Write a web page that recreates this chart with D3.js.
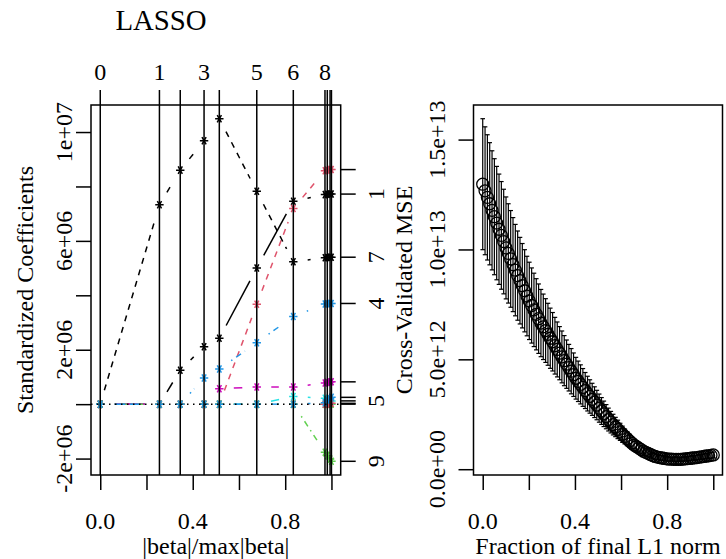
<!DOCTYPE html>
<html>
<head>
<meta charset="utf-8">
<script src="https://cdn.jsdelivr.net/npm/d3@7"></script>
<style>
  body { margin: 0; background: #fff; }
  text { font-family: "Liberation Serif", "Times New Roman", serif; fill: #000; }
</style>
</head>
<body>
<svg id="chart" width="726" height="559"></svg>
<script>
// ---- LASSO path: |beta|/max|beta| at every step, and df label of each step
const steps  = [0, 0.256, 0.346, 0.449, 0.515, 0.677, 0.835, 0.972, 0.982, 0.994, 1.0];
const stepDf = ["0", "1", "2", "3", "4", "5", "6", "8", "9", "10", "10"];

// standardized coefficients (millions) per variable at each step
const coef1  = [0, 0, 1.25, 2.11, 2.42, 5.00, 7.46, 7.70, 7.71, 7.72, 7.72];
const coef2  = [0, 0, 0, 0, 0, 3.67, 7.19, 8.58, 8.60, 8.62, 8.62];
const coef3  = [0, 0, 0, 0, 0, 0, 0, 0, 0, 0, 0];
const coef4  = [0, 0, 0, 0.96, 1.29, 2.26, 3.22, 3.68, 3.69, 3.70, 3.70];
const coef5  = [0, 0, 0, 0, 0, 0, 0.28, 0.22, 0.18, 0.14, 0.12];
const coef6  = [0, 0, 0, 0, 0.57, 0.63, 0.63, 0.78, 0.80, 0.81, 0.82];
const coef7  = [0, 7.33, 8.60, 9.68, 10.49, 7.82, 5.23, 5.38, 5.39, 5.40, 5.40];
const coef8  = [0, 0, 0, 0, 0, 0, 0, 0, 0, 0.02, 0.03];
const coef9  = [0, 0, 0, 0, 0, 0, 0, -1.77, -1.90, -2.02, -2.10];
const coef10 = [0, 0, 0, 0, 0, 0, 0, 0.05, 0.15, 0.20, 0.25];
const coefs = [coef1, coef2, coef3, coef4, coef5, coef6, coef7, coef8, coef9, coef10];

// labels on the right axis (blank = label dropped for overlap)
const varLabels = ["1", "", "", "4", "5", "", "7", "", "9", ""];
const coefTicks = [-2, 0, 2, 4, 6, 8, 10];
const coefTickLabels = ["-2e+06", "0e+00", "2e+06", "4e+06", "6e+06", "8e+06", "1e+07"];

// ---- cross validation: fraction of final L1 norm, CV MSE and its se (1e12)
const fraction = d3.range(100).map(i => i / 99);
const cvMse = [
  12.97, 12.67, 12.37, 12.08, 11.78, 11.49, 11.20, 10.92, 10.64, 10.36,
  10.07, 9.82, 9.57, 9.31, 9.06, 8.81, 8.58, 8.35, 8.12, 7.88,
  7.66, 7.45, 7.25, 7.05, 6.85, 6.65, 6.48, 6.31, 6.14, 5.96,
  5.80, 5.62, 5.45, 5.28, 5.11, 4.94, 4.78, 4.62, 4.46, 4.30,
  4.14, 4.00, 3.86, 3.72, 3.58, 3.44, 3.31, 3.18, 3.05, 2.92,
  2.78, 2.65, 2.52, 2.39, 2.26, 2.14, 2.03, 1.92, 1.81, 1.70,
  1.59, 1.49, 1.39, 1.29, 1.19, 1.10, 1.03, 0.96, 0.89, 0.82,
  0.77, 0.72, 0.67, 0.62, 0.58, 0.55, 0.53, 0.51, 0.49, 0.47,
  0.46, 0.46, 0.45, 0.45, 0.45, 0.45, 0.46, 0.47, 0.48, 0.49,
  0.51, 0.52, 0.53, 0.55, 0.56, 0.58, 0.60, 0.61, 0.63, 0.65
];
const cvSe = [
  2.98, 2.91, 2.85, 2.78, 2.71, 2.64, 2.58, 2.51, 2.45, 2.38,
  2.32, 2.26, 2.20, 2.14, 2.08, 2.03, 1.97, 1.92, 1.87, 1.81,
  1.76, 1.71, 1.67, 1.62, 1.58, 1.53, 1.49, 1.45, 1.41, 1.37,
  1.33, 1.29, 1.25, 1.21, 1.18, 1.14, 1.10, 1.06, 1.03, 0.99,
  0.95, 0.92, 0.89, 0.86, 0.82, 0.79, 0.76, 0.73, 0.70, 0.67,
  0.64, 0.61, 0.58, 0.55, 0.52, 0.49, 0.47, 0.44, 0.42, 0.39,
  0.37, 0.34, 0.32, 0.30, 0.27, 0.25, 0.24, 0.22, 0.20, 0.19,
  0.17, 0.16, 0.15, 0.14, 0.13, 0.12, 0.11, 0.11, 0.10, 0.10,
  0.09, 0.09, 0.09, 0.09, 0.09, 0.09, 0.09, 0.09, 0.10, 0.10,
  0.10, 0.10, 0.11, 0.11, 0.11, 0.12, 0.12, 0.12, 0.13, 0.13
];
const fracTicks = [0, 0.2, 0.4, 0.6, 0.8, 1.0];
const mseTicks = [0, 5, 10, 15];
const mseTickLabels = ["0.0e+00", "5.0e+12", "1.0e+13", "1.5e+13"];

// R palette / line types (matplot cycles col 1:6, lty 1:5)
const palette = ["#000000", "#DF536B", "#61D04F", "#2297E6", "#28E2E5", "#CD0BBC"];
const ltys = [null, "6,6", "1.5,4.5", "1.5,4.5,6,4.5", "10.5,4.5"];

const svg = d3.select("#chart");
const FS = 24, LW = 1.5, TICK = 15;

// R style axis range: data range stretched by 4%
function pad(ext) {
  const d = ext[1] - ext[0];
  return [ext[0] - d * 0.04, ext[1] + d * 0.04];
}

const mWidth = (() => {
  const t = svg.append("text").style("font-size", FS + "px").text("m");
  const w = t.node().getComputedTextLength();
  t.remove();
  return w;
})();

// draw labels in order, drop one if it runs into the last one drawn
function axisLabels(items, place) {
  let last = -Infinity;
  items.forEach(it => {
    if (!it.text) return;
    const t = place(svg.append("text").style("font-size", FS + "px").attr("text-anchor", "middle").text(it.text), it);
    const w = t.node().getComputedTextLength();
    if (it.pos - w / 2 < last + mWidth) t.remove();
    else last = it.pos + w / 2;
  });
}

function box(x0, x1, y0, y1) {
  svg.append("rect").attr("x", x0).attr("y", y0).attr("width", x1 - x0).attr("height", y1 - y0)
    .attr("fill", "none").attr("stroke", "#000").attr("stroke-width", LW);
}

function star(g, x, y, col) {
  const r = 4.2;
  const p = d3.path();
  [0, 60, 120].forEach(a => {
    const c = Math.cos(a * Math.PI / 180) * r, s = Math.sin(a * Math.PI / 180) * r;
    p.moveTo(x - c, y - s); p.lineTo(x + c, y + s);
  });
  g.append("path").attr("d", p.toString()).attr("stroke", col).attr("stroke-width", 1.5).attr("fill", "none");
}

// ================= left panel: LASSO coefficient path =================
const L = { x0: 91, x1: 340.7, y0: 105, y1: 475 };
const xL = d3.scaleLinear().domain(pad([0, 1])).range([L.x0, L.x1]);
const yL = d3.scaleLinear().domain(pad(d3.extent(coefs.flat()))).range([L.y1, L.y0]);

const series = svg.append("g");
const GAP = 14.5; // type = "b": lines stop short of the points
coefs.forEach((c, j) => {
  const col = palette[j % 6];
  const dash = ltys[j % 5];
  const pts = steps.map((s, i) => [xL(s), yL(c[i])]);
  for (let i = 0; i < pts.length - 1; i++) {
    const [ax, ay] = pts[i], [bx, by] = pts[i + 1];
    const len = Math.hypot(bx - ax, by - ay);
    if (len <= 2 * GAP) continue;
    const ux = (bx - ax) / len, uy = (by - ay) / len;
    series.append("line")
      .attr("x1", ax + ux * GAP).attr("y1", ay + uy * GAP)
      .attr("x2", bx - ux * GAP).attr("y2", by - uy * GAP)
      .attr("stroke", col).attr("stroke-width", 1.5)
      .attr("stroke-dasharray", dash);
  }
  pts.forEach(p => star(series, p[0], p[1], col));
});

// zero line (dotted) and step lines
svg.append("line").attr("x1", L.x0).attr("x2", L.x1).attr("y1", yL(0)).attr("y2", yL(0))
  .attr("stroke", "#000").attr("stroke-width", 1.5).attr("stroke-dasharray", ltys[2]);
svg.selectAll(".step").data(steps).enter().append("line").attr("class", "step")
  .attr("x1", d => xL(d)).attr("x2", d => xL(d))
  .attr("y1", L.y0 - TICK).attr("y2", L.y1)
  .attr("stroke", "#000").attr("stroke-width", LW);

box(L.x0, L.x1, L.y0, L.y1);

// bottom axis
svg.append("g").attr("transform", `translate(0,${L.y1})`)
  .call(d3.axisBottom(xL).tickValues(fracTicks).tickSize(TICK).tickSizeOuter(0).tickFormat(""))
  .call(g => g.select(".domain").remove())
  .call(g => g.selectAll("line").attr("stroke-width", LW));
axisLabels(fracTicks.map(v => ({ pos: xL(v), text: d3.format(".1f")(v) })),
  (t, it) => t.attr("x", it.pos).attr("y", 529));

// top axis labels (df)
axisLabels(steps.map((s, i) => ({ pos: xL(s), text: stepDf[i] })),
  (t, it) => t.attr("x", it.pos).attr("y", 80));

// left axis
svg.append("g").attr("transform", `translate(${L.x0},0)`)
  .call(d3.axisLeft(yL).tickValues(coefTicks).tickSize(TICK).tickSizeOuter(0).tickFormat(""))
  .call(g => g.select(".domain").remove())
  .call(g => g.selectAll("line").attr("stroke-width", LW));
axisLabels(coefTicks.map((v, i) => ({ pos: -yL(v), y: yL(v), text: coefTickLabels[i] })),
  (t, it) => t.attr("transform", `translate(72,${it.y}) rotate(-90)`));

// right axis at the final coefficients
const finals = coefs.map(c => c[c.length - 1]);
svg.selectAll(".rtick").data(finals).enter().append("line").attr("class", "rtick")
  .attr("x1", L.x1).attr("x2", L.x1 + TICK)
  .attr("y1", d => yL(d)).attr("y2", d => yL(d))
  .attr("stroke", "#000").attr("stroke-width", LW);
finals.forEach((v, j) => {
  if (!varLabels[j]) return;
  svg.append("text").style("font-size", FS + "px").attr("text-anchor", "middle")
    .attr("transform", `translate(384,${yL(v)}) rotate(-90)`).text(varLabels[j]);
});

svg.append("text").style("font-size", (FS * 1.2) + "px").attr("text-anchor", "middle")
  .attr("x", 161).attr("y", 30).text("LASSO");
svg.append("text").style("font-size", FS + "px").attr("text-anchor", "middle")
  .attr("x", (L.x0 + L.x1) / 2).attr("y", 554).text("|beta|/max|beta|");
svg.append("text").style("font-size", FS + "px").attr("text-anchor", "middle")
  .attr("transform", `translate(33,${(L.y0 + L.y1) / 2}) rotate(-90)`).text("Standardized Coefficients");

// ================= right panel: CV error =================
const R = { x0: 473.5, x1: 722.5, y0: 105, y1: 475 };
const upper = cvMse.map((v, i) => v + cvSe[i]);
const lower = cvMse.map((v, i) => v - cvSe[i]);
const xR = d3.scaleLinear().domain(pad(d3.extent(fraction))).range([R.x0, R.x1]);
const yR = d3.scaleLinear().domain(pad([d3.min(lower), d3.max(upper)])).range([R.y1, R.y0]);
const barW = 0.01;

const bars = svg.append("g").attr("stroke", "#000").attr("stroke-width", 1.2);
fraction.forEach((f, i) => {
  bars.append("line").attr("x1", xR(f)).attr("x2", xR(f)).attr("y1", yR(upper[i])).attr("y2", yR(lower[i]));
  bars.append("line").attr("x1", xR(f - barW)).attr("x2", xR(f + barW)).attr("y1", yR(upper[i])).attr("y2", yR(upper[i]));
  bars.append("line").attr("x1", xR(f - barW)).attr("x2", xR(f + barW)).attr("y1", yR(lower[i])).attr("y2", yR(lower[i]));
});
svg.append("g").selectAll("circle").data(fraction).enter().append("circle")
  .attr("cx", d => xR(d)).attr("cy", (d, i) => yR(cvMse[i])).attr("r", 6)
  .attr("fill", "none").attr("stroke", "#000").attr("stroke-width", 1.3);

box(R.x0, R.x1, R.y0, R.y1);

svg.append("g").attr("transform", `translate(0,${R.y1})`)
  .call(d3.axisBottom(xR).tickValues(fracTicks).tickSize(TICK).tickSizeOuter(0).tickFormat(""))
  .call(g => g.select(".domain").remove())
  .call(g => g.selectAll("line").attr("stroke-width", LW));
axisLabels(fracTicks.map(v => ({ pos: xR(v), text: d3.format(".1f")(v) })),
  (t, it) => t.attr("x", it.pos).attr("y", 529));

svg.append("g").attr("transform", `translate(${R.x0},0)`)
  .call(d3.axisLeft(yR).tickValues(mseTicks).tickSize(TICK).tickSizeOuter(0).tickFormat(""))
  .call(g => g.select(".domain").remove())
  .call(g => g.selectAll("line").attr("stroke-width", LW));
axisLabels(mseTicks.map((v, i) => ({ pos: -yR(v), y: yR(v), text: mseTickLabels[i] })),
  (t, it) => t.attr("transform", `translate(445,${it.y}) rotate(-90)`));

svg.append("text").style("font-size", FS + "px").attr("text-anchor", "middle")
  .attr("x", (R.x0 + R.x1) / 2).attr("y", 554).text("Fraction of final L1 norm");
svg.append("text").style("font-size", FS + "px").attr("text-anchor", "middle")
  .attr("transform", `translate(412,${(R.y0 + R.y1) / 2}) rotate(-90)`).text("Cross-Validated MSE");
</script>
</body>
</html>
